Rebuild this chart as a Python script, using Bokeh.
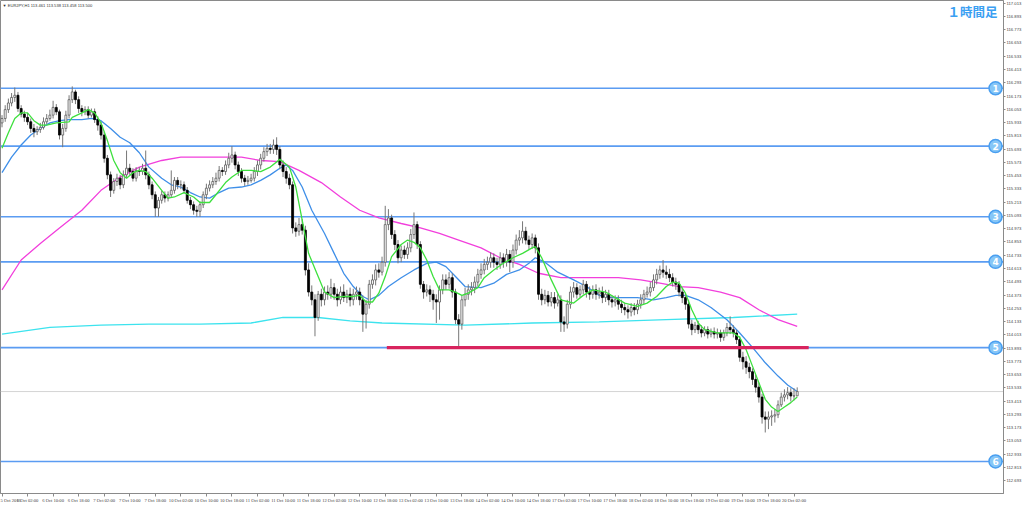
from bokeh.plotting import figure
from bokeh.models import (Range1d, FixedTicker, NumeralTickFormatter, Label,
                          ColumnDataSource)
from bokeh.core.properties import value
from bokeh.embed import file_html
from bokeh.resources import INLINE

# ---------------- data (EURJPY, H1) ----------------
first_open = 115.93
closes = [
    115.97, 116.05, 116.11, 116.16, 116.18, 116.06, 116.01, 115.98,
    115.94, 115.88, 115.85, 115.87, 115.89, 115.94, 115.97, 116.00,
    116.07, 116.03, 115.82, 115.88, 116.00, 116.14, 116.21, 116.14,
    116.06, 116.03, 116.05, 116.00, 116.03, 115.96, 115.91, 115.82,
    115.61, 115.46, 115.32, 115.40, 115.43, 115.37, 115.46, 115.52,
    115.49, 115.43, 115.50, 115.49, 115.52, 115.46, 115.37, 115.28,
    115.16, 115.23, 115.28, 115.25, 115.28, 115.32, 115.41, 115.37,
    115.37, 115.32, 115.23, 115.19, 115.14, 115.13, 115.19, 115.28,
    115.34, 115.37, 115.40, 115.43, 115.50, 115.49, 115.55, 115.61,
    115.64, 115.55, 115.49, 115.43, 115.40, 115.41, 115.43, 115.49,
    115.55, 115.61, 115.67, 115.70, 115.69, 115.73, 115.69, 115.55,
    115.49, 115.43, 115.37, 114.98, 114.95, 115.01, 114.96, 114.60,
    114.40, 114.33, 114.17, 114.38, 114.33, 114.40, 114.38, 114.44,
    114.38, 114.33, 114.40, 114.35, 114.38, 114.33, 114.38, 114.40,
    114.33, 114.20, 114.29, 114.47, 114.51, 114.60, 114.58, 114.67,
    115.01, 115.07, 114.92, 114.83, 114.71, 114.78, 114.74, 114.80,
    114.92, 115.01, 114.83, 114.47, 114.40, 114.42, 114.38, 114.33,
    114.31, 114.42, 114.51, 114.47, 114.53, 114.40, 114.15, 114.11,
    114.33, 114.38, 114.42, 114.44, 114.49, 114.56, 114.60, 114.65,
    114.67, 114.71, 114.67, 114.65, 114.71, 114.67, 114.74, 114.67,
    114.78, 114.87, 114.89, 114.95, 114.87, 114.83, 114.89, 114.80,
    114.38, 114.33, 114.37, 114.31, 114.35, 114.30, 114.33, 114.13,
    114.11, 114.29, 114.40, 114.44, 114.38, 114.42, 114.47, 114.40,
    114.38, 114.42, 114.38, 114.40, 114.35, 114.38, 114.33, 114.31,
    114.33, 114.29, 114.26, 114.24, 114.22, 114.26, 114.24, 114.29,
    114.33, 114.38, 114.40, 114.44, 114.51, 114.56, 114.60, 114.58,
    114.56, 114.53, 114.49, 114.47, 114.40, 114.35, 114.29, 114.11,
    114.06, 114.10, 114.06, 114.03, 114.06, 114.02, 114.04, 114.02,
    114.03, 113.99, 114.03, 114.08, 114.06, 114.03, 113.97, 113.81,
    113.77, 113.72, 113.68, 113.61, 113.54, 113.45, 113.27, 113.25,
    113.27, 113.28, 113.29, 113.38, 113.45, 113.47, 113.49, 113.46,
    113.461, 113.500,
]
highs = [
    116.00, 116.09, 116.15, 116.20, 116.25, 116.21, 116.09, 116.04,
    116.02, 115.97, 115.92, 115.90, 115.93, 115.98, 116.01, 116.05,
    116.13, 116.10, 116.05, 115.92, 116.04, 116.18, 116.26, 116.23,
    116.17, 116.09, 116.08, 116.08, 116.06, 116.06, 115.99, 115.94,
    115.85, 115.64, 115.49, 115.43, 115.47, 115.46, 115.50, 115.68,
    115.56, 115.52, 115.53, 115.53, 115.56, 115.68, 115.49, 115.40,
    115.31, 115.26, 115.32, 115.31, 115.31, 115.50, 115.44, 115.44,
    115.41, 115.40, 115.35, 115.26, 115.22, 115.18, 115.22, 115.31,
    115.38, 115.41, 115.44, 115.48, 115.54, 115.53, 115.59, 115.66,
    115.72, 115.67, 115.58, 115.52, 115.46, 115.45, 115.47, 115.53,
    115.59, 115.65, 115.71, 115.74, 115.74, 115.78, 115.80, 115.72,
    115.59, 115.53, 115.47, 115.40, 115.03, 115.07, 115.06, 115.00,
    114.66, 114.46, 114.38, 114.41, 114.43, 114.45, 114.46, 114.52,
    114.48, 114.43, 114.45, 114.47, 114.42, 114.44, 114.43, 114.45,
    114.44, 114.37, 114.33, 114.51, 114.56, 114.65, 114.66, 114.72,
    115.18, 115.15, 115.10, 114.96, 114.87, 114.82, 114.82, 114.85,
    114.97, 115.12, 115.04, 114.86, 114.50, 114.47, 114.46, 114.42,
    114.38, 114.46, 114.56, 114.56, 114.58, 114.57, 114.43, 114.20,
    114.37, 114.44, 114.47, 114.49, 114.54, 114.61, 114.66, 114.70,
    114.72, 114.76, 114.75, 114.71, 114.76, 114.75, 114.79, 114.78,
    114.83, 114.92, 114.96, 115.04, 114.99, 114.91, 114.93, 114.92,
    114.84, 114.43, 114.42, 114.41, 114.40, 114.40, 114.38, 114.37,
    114.18, 114.33, 114.45, 114.49, 114.48, 114.46, 114.51, 114.50,
    114.45, 114.46, 114.47, 114.44, 114.45, 114.42, 114.42, 114.37,
    114.37, 114.37, 114.33, 114.30, 114.28, 114.30, 114.30, 114.33,
    114.38, 114.42, 114.45, 114.49, 114.56, 114.61, 114.64, 114.69,
    114.64, 114.61, 114.57, 114.53, 114.50, 114.44, 114.39, 114.33,
    114.15, 114.13, 114.14, 114.10, 114.09, 114.09, 114.07, 114.08,
    114.07, 114.06, 114.06, 114.12, 114.18, 114.10, 114.06, 114.00,
    113.86, 113.82, 113.76, 113.71, 113.65, 113.58, 113.48, 113.32,
    113.32, 113.33, 113.34, 113.42, 113.49, 113.52, 113.54, 113.53,
    113.53, 113.538,
]
lows = [
    115.89, 115.94, 116.02, 116.08, 116.12, 116.03, 115.98, 115.94,
    115.91, 115.84, 115.80, 115.82, 115.84, 115.87, 115.92, 115.95,
    115.97, 116.00, 115.78, 115.71, 115.85, 115.97, 116.11, 116.10,
    116.02, 115.99, 116.00, 115.97, 115.98, 115.93, 115.86, 115.78,
    115.57, 115.42, 115.26, 115.29, 115.36, 115.33, 115.34, 115.43,
    115.46, 115.40, 115.40, 115.45, 115.46, 115.42, 115.33, 115.24,
    115.08, 115.08, 115.20, 115.21, 115.22, 115.26, 115.29, 115.33,
    115.33, 115.29, 115.20, 115.15, 115.10, 115.08, 115.08, 115.16,
    115.24, 115.31, 115.34, 115.37, 115.40, 115.45, 115.46, 115.52,
    115.57, 115.51, 115.45, 115.39, 115.36, 115.37, 115.39, 115.40,
    115.45, 115.51, 115.58, 115.63, 115.65, 115.65, 115.64, 115.51,
    115.44, 115.38, 115.33, 114.93, 114.90, 114.91, 114.92, 114.55,
    114.36, 114.28, 114.00, 114.14, 114.27, 114.28, 114.33, 114.34,
    114.33, 114.27, 114.29, 114.31, 114.30, 114.27, 114.28, 114.33,
    114.28, 114.04, 114.07, 114.25, 114.43, 114.46, 114.53, 114.55,
    114.63, 114.96, 114.88, 114.78, 114.66, 114.67, 114.70, 114.70,
    114.76, 114.88, 114.79, 114.43, 114.34, 114.36, 114.31, 114.24,
    114.12, 114.15, 114.38, 114.42, 114.43, 114.35, 114.11, 113.91,
    114.06, 114.27, 114.33, 114.37, 114.39, 114.45, 114.52, 114.56,
    114.60, 114.62, 114.62, 114.60, 114.61, 114.62, 114.63, 114.58,
    114.62, 114.74, 114.82, 114.84, 114.83, 114.78, 114.79, 114.75,
    114.33, 114.28, 114.29, 114.27, 114.27, 114.25, 114.27, 114.04,
    114.04, 114.07, 114.25, 114.35, 114.34, 114.35, 114.38, 114.35,
    114.33, 114.34, 114.33, 114.34, 114.30, 114.31, 114.28, 114.26,
    114.27, 114.24, 114.21, 114.19, 114.16, 114.18, 114.19, 114.20,
    114.25, 114.29, 114.35, 114.36, 114.41, 114.47, 114.52, 114.53,
    114.52, 114.49, 114.45, 114.42, 114.36, 114.30, 114.24, 114.07,
    114.01, 114.03, 114.02, 113.99, 114.00, 113.98, 113.99, 113.98,
    113.98, 113.95, 113.96, 114.00, 114.02, 113.99, 113.93, 113.77,
    113.70, 113.66, 113.62, 113.56, 113.49, 113.40, 113.21, 113.13,
    113.16, 113.19, 113.22, 113.26, 113.36, 113.41, 113.43, 113.41,
    113.42, 113.458,
]

# moving averages (bar index, price)
ma_green_x = [0, 2, 4, 6, 8, 10, 12, 14, 17, 21, 22, 25, 27, 29, 31, 33, 35, 37, 39, 41,
              43, 45, 47, 50, 52, 54, 57, 60, 62, 65, 67, 70, 72, 75, 78, 81, 84, 87, 90, 92,
              94, 96, 99, 101, 104, 107, 110, 112, 114, 116, 118, 120, 122, 125, 127, 129, 131, 133, 135, 137,
              140, 142, 144, 146, 149, 151, 154, 157, 160, 163, 166, 167, 169, 172, 175, 179, 182, 185, 189, 192,
              195, 199, 202, 205, 208, 210, 212, 214, 216, 218, 220, 224, 227, 229, 231, 233, 235, 237, 239, 241,
              243, 245, 247, 249]
ma_green_y = [115.70, 115.84, 115.97, 116.02, 116.02, 115.95, 115.91, 115.91, 115.93, 115.94,
              115.98, 116.02, 116.05, 116.02, 115.93, 115.77, 115.59, 115.48, 115.43, 115.48,
              115.50, 115.49, 115.43, 115.32, 115.25, 115.26, 115.30, 115.26, 115.21, 115.21,
              115.28, 115.39, 115.44, 115.50, 115.50, 115.49, 115.53, 115.60, 115.53, 115.35,
              115.05, 114.75, 114.54, 114.40, 114.35, 114.36, 114.36, 114.37, 114.31, 114.31,
              114.39, 114.54, 114.72, 114.83, 114.87, 114.85, 114.80, 114.69, 114.54, 114.42,
              114.42, 114.40, 114.37, 114.39, 114.44, 114.53, 114.60, 114.66, 114.71, 114.75,
              114.80, 114.81, 114.71, 114.51, 114.33, 114.30, 114.37, 114.42, 114.40, 114.35,
              114.30, 114.27, 114.30, 114.36, 114.45, 114.49, 114.48, 114.39, 114.24, 114.12,
              114.06, 114.03, 114.03, 114.03, 113.99, 113.88, 113.73, 113.58, 113.43, 113.36,
              113.32, 113.36, 113.40, 113.45]
ma_blue_x = [0, 3, 6, 9, 12, 15, 18, 21, 25, 28, 31, 34, 37, 40, 43, 46, 50, 53, 56, 59,
             62, 65, 68, 71, 75, 78, 81, 84, 87, 89, 91, 94, 97, 101, 104, 107, 110, 113, 115, 118,
             121, 125, 129, 133, 136, 139, 142, 145, 150, 154, 158, 162, 165, 167, 170, 174, 179, 183, 187, 191,
             195, 199, 204, 208, 211, 214, 218, 222, 227, 231, 235, 239, 243, 246, 249]
ma_blue_y = [115.48, 115.62, 115.73, 115.82, 115.88, 115.93, 115.95, 115.96, 115.96, 115.97,
             115.95, 115.88, 115.80, 115.75, 115.66, 115.53, 115.43, 115.37, 115.35, 115.30,
             115.26, 115.25, 115.30, 115.34, 115.35, 115.37, 115.41, 115.46, 115.52, 115.55,
             115.50, 115.35, 115.14, 114.93, 114.75, 114.57, 114.45, 114.36, 114.33, 114.37,
             114.45, 114.53, 114.60, 114.66, 114.67, 114.63, 114.54, 114.45, 114.44, 114.48,
             114.56, 114.60, 114.66, 114.71, 114.67, 114.58, 114.51, 114.45, 114.37, 114.35,
             114.35, 114.35, 114.33, 114.35, 114.37, 114.37, 114.33, 114.26, 114.15, 114.03,
             113.90, 113.76, 113.64, 113.56, 113.50]
ma_magenta_x = [0, 6, 12, 18, 25, 31, 37, 43, 50, 56, 62, 68, 75, 81, 87, 93, 100, 106, 112, 118,
                125, 131, 137, 143, 150, 156, 162, 168, 175, 181, 187, 193, 200, 206, 212, 218, 225, 231,
                237, 243, 249]
ma_magenta_y = [114.42, 114.69, 114.84, 114.98, 115.14, 115.32, 115.44, 115.53, 115.59, 115.62,
                115.62, 115.62, 115.62, 115.59, 115.58, 115.50, 115.39, 115.26, 115.14, 115.07,
                115.02, 114.98, 114.93, 114.87, 114.80, 114.71, 114.65, 114.57, 114.53, 114.53,
                114.53, 114.53, 114.51, 114.48, 114.45, 114.44, 114.40, 114.35, 114.24, 114.15,
                114.09]
ma_cyan_x = [0, 15, 31, 46, 62, 78, 88, 99, 109, 119, 145, 166, 187, 208, 229, 249]
ma_cyan_y = [114.02, 114.08, 114.10, 114.11, 114.11, 114.12, 114.17, 114.17, 114.14, 114.12,
             114.10, 114.12, 114.13, 114.15, 114.17, 114.20]

# horizontal levels
level_prices = [116.243, 115.720, 115.081, 114.673, 113.897, 112.868]
level_names = ["1", "2", "3", "4", "5", "6"]
support_price = 113.897
support_from, support_to = 120.5, 252.6
bid_price = 113.500

# axes
x_tick_bars = list(range(0, 249, 8))
x_tick_labels = ["5 Oct 2016", "6 Oct 02:00", "6 Oct 10:00", "6 Oct 18:00", "7 Oct 02:00",
                 "7 Oct 10:00", "7 Oct 18:00", "10 Oct 02:00", "10 Oct 10:00", "10 Oct 18:00",
                 "11 Oct 02:00", "11 Oct 10:00", "11 Oct 18:00", "12 Oct 02:00", "12 Oct 10:00",
                 "12 Oct 18:00", "13 Oct 02:00", "13 Oct 10:00", "13 Oct 18:00", "14 Oct 02:00",
                 "14 Oct 10:00", "14 Oct 18:00", "17 Oct 02:00", "17 Oct 10:00", "17 Oct 18:00",
                 "18 Oct 02:00", "18 Oct 10:00", "18 Oct 18:00", "19 Oct 02:00", "19 Oct 10:00",
                 "19 Oct 18:00", "20 Oct 02:00"]
y_ticks = [117.013, 116.893, 116.773, 116.653, 116.533, 116.413, 116.293, 116.173, 116.053,
           115.933, 115.813, 115.693, 115.573, 115.453, 115.333, 115.213, 115.093, 114.973,
           114.853, 114.733, 114.613, 114.493, 114.373, 114.253, 114.133, 114.013, 113.893,
           113.773, 113.653, 113.533, 113.413, 113.293, 113.173, 113.053, 112.933, 112.813,
           112.693]

title_text = "\u25bc EURJPY,H1  113.461 113.538 113.458 113.500"
corner_text = "１時間足"

# ---------------- figure ----------------
n = len(closes)
opens = [first_open] + closes[:-1]
idx = list(range(n))

X0, X1 = -0.47, 313.6
p = figure(width=1024, height=505, x_range=Range1d(X0, X1),
           y_range=Range1d(112.578, 117.037), output_backend="svg",
           toolbar_location=None, y_axis_location="right",
           min_border_left=0, min_border_top=0, min_border_right=19, min_border_bottom=11)
p.grid.visible = False
p.background_fill_color = "white"
p.border_fill_color = "white"
p.outline_line_color = "#8a8a8a"

FONT = "Liberation Sans"
p.xaxis.ticker = FixedTicker(ticks=x_tick_bars)
p.xaxis.major_label_overrides = {t: s for t, s in zip(x_tick_bars, x_tick_labels)}
p.xaxis.major_label_text_align = "left"
p.xaxis.major_label_text_font_size = "4.6px"
p.xaxis.major_label_text_font = "Liberation Sans Narrow"
p.xaxis.major_label_text_color = "#444444"
p.xaxis.major_label_standoff = 1
p.xaxis.major_tick_in = 0
p.xaxis.major_tick_out = 3
p.xaxis.minor_tick_line_color = None
p.xaxis.axis_line_color = "#8a8a8a"
p.xaxis.major_tick_line_color = "#8a8a8a"

p.yaxis.ticker = FixedTicker(ticks=y_ticks)
p.yaxis.formatter = NumeralTickFormatter(format="0.000")
p.yaxis.major_label_text_font_size = "4.2px"
p.yaxis.major_label_text_font = FONT
p.yaxis.major_label_text_color = "#444444"
p.yaxis.major_label_standoff = 1
p.yaxis.major_tick_in = 0
p.yaxis.major_tick_out = 2
p.yaxis.minor_tick_line_color = None
p.yaxis.axis_line_color = "#8a8a8a"
p.yaxis.major_tick_line_color = "#8a8a8a"

# bid line and horizontal levels
p.segment(x0=[X0], x1=[X1], y0=[bid_price], y1=[bid_price], line_color="#d4d4d4", line_width=1)
p.segment(x0=[X0] * len(level_prices), x1=[X1] * len(level_prices), y0=level_prices,
          y1=level_prices, line_color="#5b9cf2", line_width=1.6)

# moving averages
p.line(ma_cyan_x, ma_cyan_y, line_color="#3de3ee", line_width=1.3)
p.line(ma_magenta_x, ma_magenta_y, line_color="#f23fdc", line_width=1.3)
p.line(ma_blue_x, ma_blue_y, line_color="#3f8fe8", line_width=1.3)

# candles
up = [i for i in idx if closes[i] >= opens[i]]
dn = [i for i in idx if closes[i] < opens[i]]
wick = ColumnDataSource(dict(x=idx, lo=lows, hi=highs))
p.segment(x0="x", y0="lo", x1="x", y1="hi", source=wick, line_color="#777777", line_width=1)
up_src = ColumnDataSource(dict(x=up, top=[closes[i] for i in up], bottom=[opens[i] for i in up]))
dn_src = ColumnDataSource(dict(x=dn, top=[opens[i] for i in dn], bottom=[closes[i] for i in dn]))
p.vbar(x="x", top="top", bottom="bottom", width=0.62, source=up_src,
       fill_color="white", line_color="#5a5a5a", line_width=0.8)
p.vbar(x="x", top="top", bottom="bottom", width=0.62, source=dn_src,
       fill_color="black", line_color="black", line_width=0.8)

p.line(ma_green_x, ma_green_y, line_color="#3ee03e", line_width=1.3)

# support line
p.segment(x0=[support_from], y0=[support_price], x1=[support_to], y1=[support_price],
          line_color="#d8245e", line_width=3.2)

# circled level numbers
circle_x = [311.1] * len(level_prices)
p.scatter(circle_x, level_prices, size=13, marker="circle", fill_color="#86c6f7",
          line_color="#4a9ff0", line_width=1.5)
p.text(circle_x, level_prices, text=level_names, text_align="center", text_baseline="middle",
       text_color="white", text_font_size="9px", text_font_style="bold",
       text_font=value("DejaVu Sans"))

# texts
p.add_layout(Label(x=X0, y=116.992, x_offset=2, text=title_text,
                   text_font_size="4.1px", text_font=FONT, text_color="#333333",
                   text_baseline="middle"))
p.add_layout(Label(x=296.1, y=116.942, text=corner_text, text_font_size="12.5px",
                   text_font="Noto Sans CJK JP", text_font_style="bold",
                   text_color="#3aa0f2", text_baseline="middle"))

open("out.html", "w").write(file_html(p, INLINE))
